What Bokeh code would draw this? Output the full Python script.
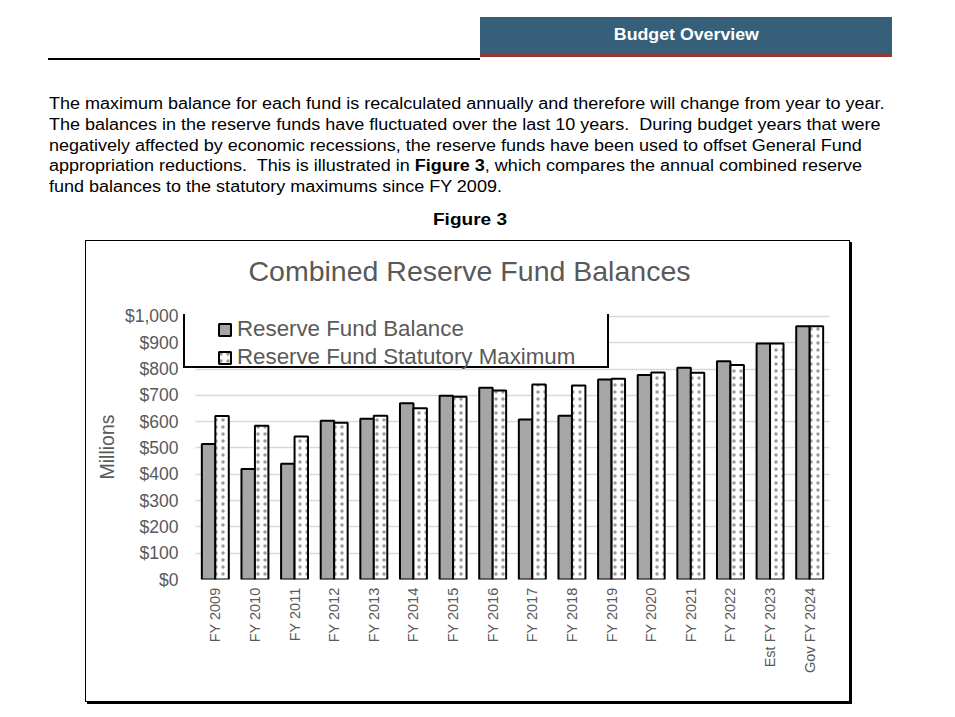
import math
from bokeh.plotting import figure
from bokeh.models import (Range1d, FactorRange, NumeralTickFormatter, Legend, LegendItem, Div,
                          ColumnDataSource, BoxAnnotation, Title)
from bokeh.layouts import column
from bokeh.transform import dodge
from bokeh.embed import file_html
from bokeh.resources import INLINE

# ---- data (millions of dollars) ----
categories = ["FY 2009", "FY 2010", "FY 2011", "FY 2012", "FY 2013", "FY 2014", "FY 2015",
              "FY 2016", "FY 2017", "FY 2018", "FY 2019", "FY 2020", "FY 2021", "FY 2022",
              "Est FY 2023", "Gov FY 2024"]
reserve_balance = [515, 420, 440, 604, 611, 670, 699, 729, 608, 623, 760, 778, 805, 830, 897, 963]
statutory_maximum = [622, 585, 544, 596, 623, 651, 695, 719, 741, 738, 763, 787, 786, 816, 897, 963]
y_ticks = [0, 100, 200, 300, 400, 500, 600, 700, 800, 900, 1000]
series_names = ["Reserve Fund Balance", "Reserve Fund Statutory Maximum"]
chart_title = "Combined Reserve Fund Balances"

FONT = "Liberation Sans"
GREY_TXT = "#595959"

src = ColumnDataSource(dict(cat=categories, bal=reserve_balance, mx=statutory_maximum))

# the frame is a little wider / taller than the plotted area so that the legend box fits in it
x_range = FactorRange(*categories, range_padding=0.328, range_padding_units="absolute")
p = figure(x_range=x_range, y_range=Range1d(0, 1007.6),
           width=765, height=462, output_backend="svg", toolbar_location=None,
           min_border_left=96, min_border_right=9, min_border_top=73, min_border_bottom=124)
p.margin = (0, 0, 0, 85)
p.styles = {"border": "1px solid black", "box-shadow": "2px 2px 0 0 black"}
p.outline_line_color = None
p.background_fill_color = "white"
p.border_fill_color = "white"

# title (a thin spacer title keeps it clear of the plot area)
p.title.text = ""
p.add_layout(Title(text=" ", text_font_size="1px", standoff=25), "above")
p.add_layout(Title(text=chart_title, align="left", offset=66, standoff=0, text_font=FONT,
                   text_font_style="normal", text_font_size="28.5px", text_color=GREY_TXT),
             "above")

p.xgrid.grid_line_color = None
p.ygrid.grid_line_color = "#d9d9d9"
p.ygrid.grid_line_width = 1.5

p.yaxis.ticker = y_ticks
p.yaxis.formatter = NumeralTickFormatter(format="$0,0")
for ax in (p.xaxis[0], p.yaxis[0]):
    ax.axis_line_color = None
    ax.major_tick_line_color = None
    ax.minor_tick_line_color = None
    ax.major_tick_out = 0
    ax.major_tick_in = 0
    ax.major_label_text_font = FONT
    ax.major_label_text_color = GREY_TXT

p.yaxis.major_label_text_font_size = "17.5px"
p.yaxis.major_label_standoff = 4
p.yaxis.axis_label = "Millions"
p.yaxis.axis_label_text_font = FONT
p.yaxis.axis_label_text_font_style = "normal"
p.yaxis.axis_label_text_font_size = "19.5px"
p.yaxis.axis_label_text_color = GREY_TXT
p.yaxis.axis_label_standoff = 4

p.xaxis.major_label_orientation = math.pi / 2
p.xaxis.major_label_text_font_size = "14.5px"
p.xaxis.major_label_standoff = 8

# white side strips: gridlines only span the category area
p.add_layout(BoxAnnotation(right=0, fill_color="white", fill_alpha=1, line_alpha=0, level="underlay"))
p.add_layout(BoxAnnotation(left=len(categories), fill_color="white", fill_alpha=1, line_alpha=0,
                           level="underlay"))

r1 = p.vbar(x=dodge("cat", -0.17, range=p.x_range), top="bal", width=0.34, source=src,
            fill_color="#a6a6a6", line_color="black", line_width=2)
r2 = p.vbar(x=dodge("cat", 0.17, range=p.x_range), top="mx", width=0.34, source=src,
            fill_color="white", line_color="black", line_width=2,
            hatch_pattern="dot", hatch_color="#9a9a9a", hatch_scale=7, hatch_weight=1.5)
# invisible helper renderer used only to draw the legend's framed box
r_box = p.vbar(x=[], top=[], width=0.34, fill_alpha=0, line_alpha=0)

legend_box = Legend(items=[LegendItem(label=" ", renderers=[r_box])],
                    location=(1, 211), orientation="vertical", padding=0, margin=0,
                    glyph_width=1, glyph_height=1, label_standoff=0, label_width=421,
                    label_height=53, border_line_color="black", border_line_width=2,
                    border_line_alpha=1, background_fill_color="white", background_fill_alpha=1)
p.add_layout(legend_box)

legend = Legend(items=[LegendItem(label=series_names[0], renderers=[r1]),
                       LegendItem(label=series_names[1], renderers=[r2])],
                location=(35, 209), orientation="vertical", padding=0, margin=0,
                spacing=2, glyph_width=15, glyph_height=15, label_height=24,
                label_standoff=5, label_text_font=FONT, label_text_font_size="22.3px",
                label_text_color=GREY_TXT, background_fill_alpha=0, border_line_alpha=0)
p.add_layout(legend)

para = ("The maximum balance for each fund is recalculated annually and therefore will change from year to year.<br>"
        "The balances in the reserve funds have fluctuated over the last 10 years.&nbsp; During budget years that were<br>"
        "negatively affected by economic recessions, the reserve funds have been used to offset General Fund<br>"
        "appropriation reductions.&nbsp; This is illustrated in <b>Figure 3</b>, which compares the annual combined reserve<br>"
        "fund balances to the statutory maximums since FY 2009.")

html = f"""
<div style="position:relative;width:939px;height:230px;font-family:'Liberation Sans',Arial,sans-serif;color:#000;">
  <div style="position:absolute;left:475px;top:12px;width:412px;height:40px;background:#36607a;
              border-bottom:3px solid #953735;display:flex;align-items:center;justify-content:center;">
    <span style="display:inline-block;color:#ffffff;font-weight:bold;font-size:16px;transform:scaleX(1.11);">Budget Overview</span>
  </div>
  <div style="position:absolute;left:43px;top:53px;width:432px;height:1.5px;background:#000;"></div>
  <div style="position:absolute;left:44px;top:89px;white-space:nowrap;font-size:16px;line-height:20.8px;
              transform:scaleX(1.125);transform-origin:0 0;">{para}</div>
  <div style="position:absolute;left:365px;top:205px;width:200px;text-align:center;font-weight:bold;
              font-size:17px;line-height:20px;transform:scaleX(1.12);">Figure 3</div>
</div>
"""
header = Div(text=html, width=939, height=230)

layout = column(header, p)
open("out.html", "w").write(file_html(layout, INLINE))
